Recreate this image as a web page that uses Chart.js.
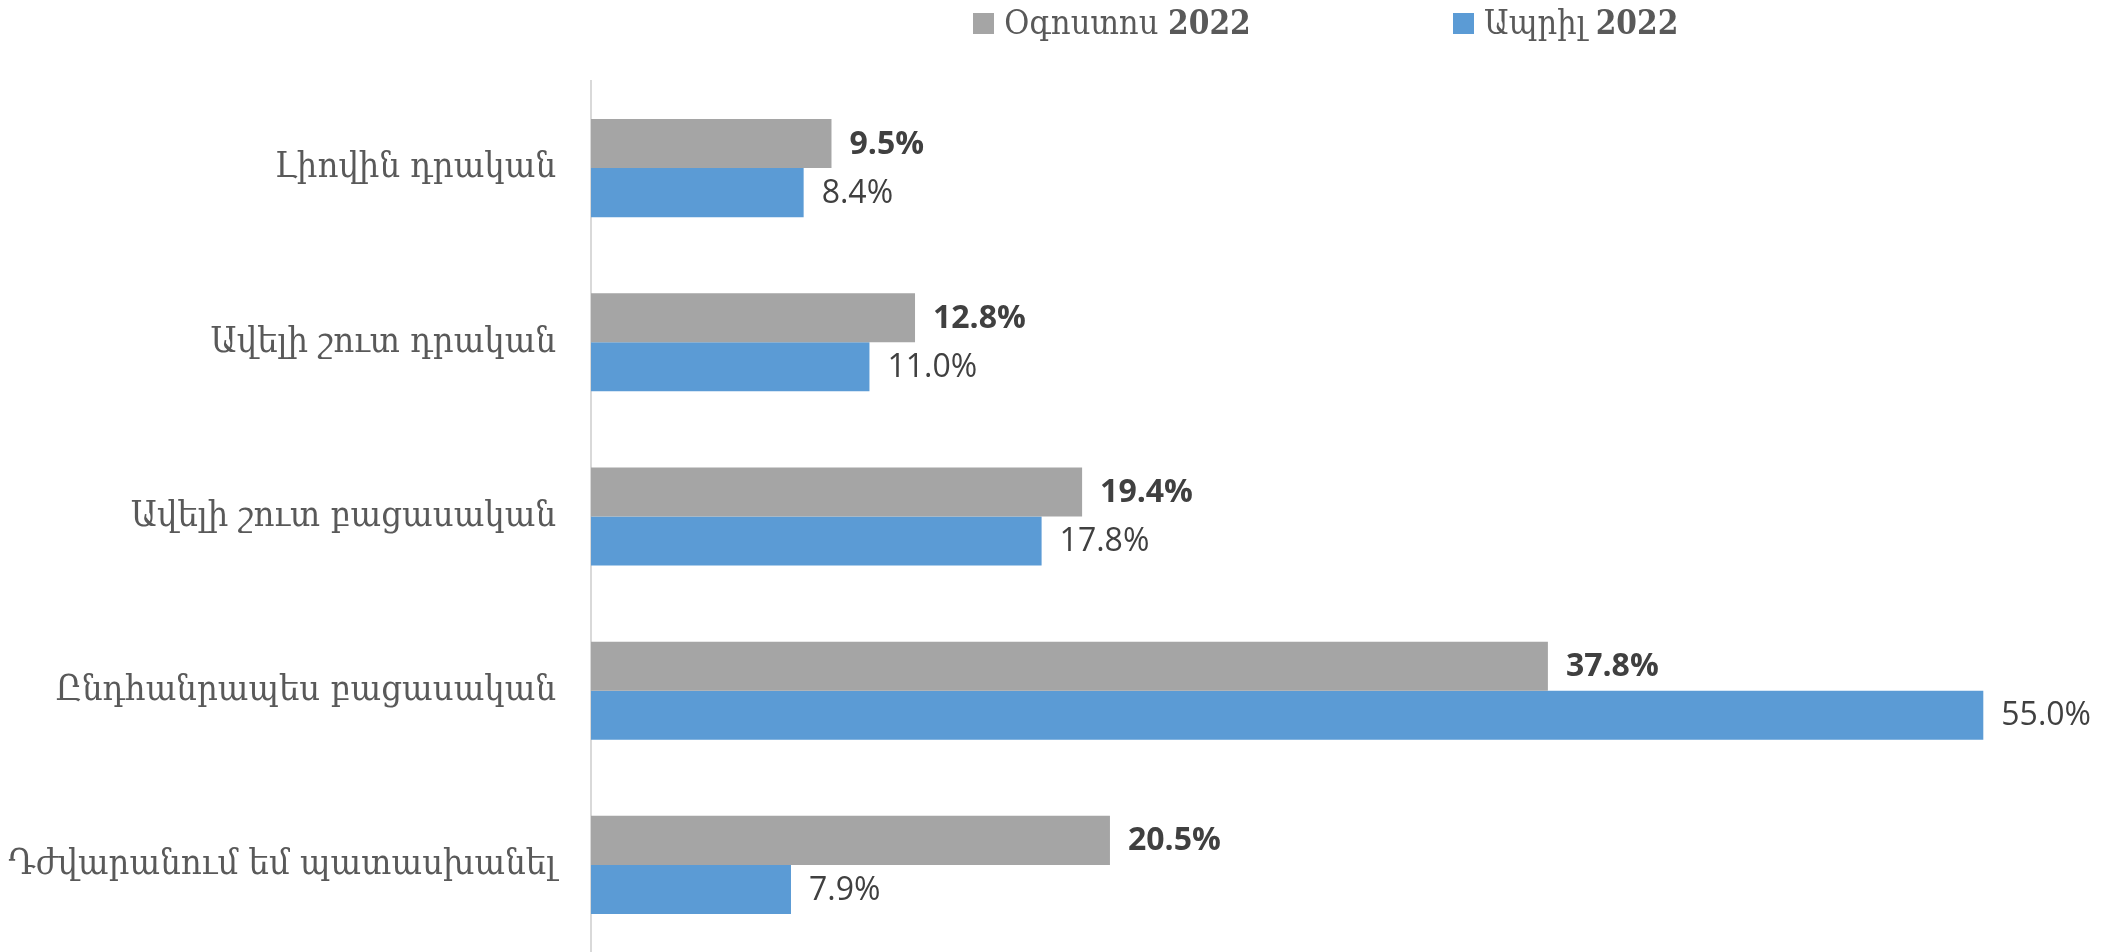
<!DOCTYPE html>
<html>
<head>
<meta charset="utf-8">
<script src="https://cdn.jsdelivr.net/npm/chart.js@4.4.1/dist/chart.umd.min.js"></script>
<style>
html,body{margin:0;padding:0;background:#fff;}
#wrap{width:2120px;height:952px;position:relative;}
</style>
</head>
<body>
<div id="wrap"><canvas id="c" width="2120" height="952"></canvas></div>
<script>
const categories = ["Լիովին դրական","Ավելի շուտ դրական","Ավելի շուտ բացասական","Ընդհանրապես բացասական","Դժվարանում եմ պատասխանել"];
const seriesNames = ["Օգոստոս 2022","Ապրիլ 2022"];
const august2022 = [9.5, 12.8, 19.4, 37.8, 20.5];
const april2022 = [8.4, 11.0, 17.8, 55.0, 7.9];
const seriesColors = ["#a5a5a5", "#5b9bd5"];
const armFont = '"DejaVu Serif Condensed", "DejaVu Serif", serif';

const labelPlugin = {
  id: 'barLabels',
  afterDatasetsDraw(chart) {
    const ctx = chart.ctx;
    ctx.save();
    chart.data.datasets.forEach((ds, di) => {
      const meta = chart.getDatasetMeta(di);
      meta.data.forEach((el, i) => {
        ctx.font = (di === 0 ? 'bold ' : '') + '32px "Open Sans"';
        ctx.fillStyle = '#404040';
        ctx.textAlign = 'left';
        ctx.textBaseline = 'middle';
        ctx.fillText(ds.data[i].toFixed(1) + '%', el.x + 18, el.y + 1);
      });
    });
    ctx.restore();
  }
};

const legendPlugin = {
  id: 'customLegend',
  afterDraw(chart) {
    const ctx = chart.ctx;
    ctx.save();
    const xs = [973, 1453];
    xs.forEach((x, i) => {
      ctx.fillStyle = seriesColors[i];
      ctx.fillRect(x, 13, 21, 21);
      const parts = seriesNames[i].split(' ');
      ctx.fillStyle = '#595959';
      ctx.textAlign = 'left';
      ctx.textBaseline = 'middle';
      ctx.font = '34px ' + armFont;
      let tx = x + 31;
      ctx.fillText(parts[0] + ' ', tx, 25);
      tx += ctx.measureText(parts[0] + ' ').width;
      ctx.font = 'bold 33px ' + armFont;
      ctx.fillText(parts[1], tx, 25);
    });
    ctx.restore();
  }
};

new Chart(document.getElementById('c'), {
  type: 'bar',
  data: {
    labels: categories,
    datasets: [
      {label: seriesNames[0], data: august2022, backgroundColor: seriesColors[0], categoryPercentage: 0.563, barPercentage: 1.0},
      {label: seriesNames[1], data: april2022, backgroundColor: seriesColors[1], categoryPercentage: 0.563, barPercentage: 1.0}
    ]
  },
  options: {
    indexAxis: 'y',
    responsive: false,
    animation: false,
    layout: {padding: {top: 81, bottom: -4, left: 0, right: 0}},
    plugins: {legend: {display: false}, tooltip: {enabled: false}},
    scales: {
      x: {display: false, min: 0, max: 60.4},
      y: {
        grid: {display: false, drawTicks: false},
        border: {display: true, color: '#d9d9d9', width: 2},
        ticks: {color: '#595959', font: {family: armFont, size: 36}, padding: 35},
        afterFit(scale) { scale.width = 591; scale.paddingTop = 0; scale.paddingBottom = 0; }
      }
    }
  },
  plugins: [labelPlugin, legendPlugin]
});
</script>
</body>
</html>
